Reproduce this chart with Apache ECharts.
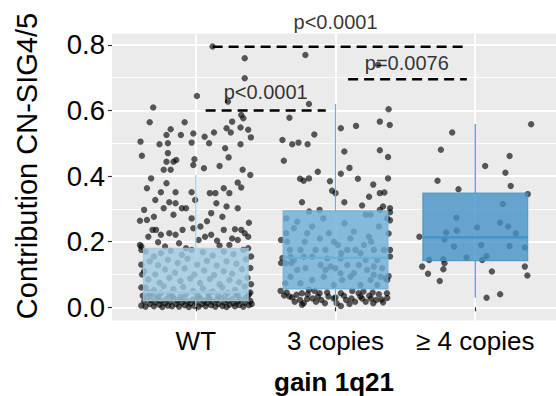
<!DOCTYPE html>
<html>
<head>
<meta charset="utf-8">
<script src="https://cdn.jsdelivr.net/npm/echarts@6/dist/echarts.min.js"></script>
<style>
html,body{margin:0;padding:0;background:#fff;}
#chart{width:556px;height:396px;}
</style>
</head>
<body>
<div id="chart"></div>
<script>
// ---------- data ----------
const categories = ['WT', '3 copies', '≥ 4 copies'];
const yTicks = [0, 0.2, 0.4, 0.6, 0.8];
const yMinorTicks = [0.1, 0.3, 0.5, 0.7];
const xTicks = [1, 2, 3];
// [position, lower whisker, Q1, median, Q3, upper whisker]
const boxStats = [
  [1, 0.001, 0.020, 0.046, 0.180, 0.403],
  [2, 0.004, 0.056, 0.151, 0.294, 0.620],
  [3, 0.029, 0.142, 0.213, 0.348, 0.559]
];
// significance brackets: [xStart, xEnd, y]
const brackets = [
  [1.07, 1.93, 0.600],
  [2.09, 2.94, 0.695],
  [1.12, 2.925, 0.794]
];
// p-value labels: [x, y, text]
const pLabels = [
  [1.50, 0.655, 'p<0.0001'],
  [2.51, 0.746, 'p=0.0076'],
  [2.00, 0.871, 'p<0.0001']
];
// jittered observations: [offset from group centre, value]
const wtPoints = [
  [0.12,0.795],[0.35,0.759],[0.35,0.698],[0.008,0.644],[0.23,0.627],[-0.305,0.609],[-0.33,0.564],[-0.08,0.564],
  [-0.396,0.505],[-0.386,0.462],[-0.18,0.543],[-0.21,0.525],[-0.107,0.525],[-0.018,0.530],[0.063,0.520],[0.13,0.533],
  [0.22,0.546],[0.26,0.566],[0.325,0.586],[0.34,0.576],[0.375,0.541],[0.394,0.518],[0.32,0.548],[0.25,0.533],
  [-0.26,0.497],[-0.20,0.500],[-0.03,0.502],[0.095,0.500],[0.21,0.485],[0.32,0.497],[-0.20,0.470],[-0.16,0.444],
  [-0.21,0.444],[-0.14,0.449],[-0.01,0.451],[0.235,0.457],[-0.018,0.434],[0.058,0.424],[-0.23,0.419],[-0.18,0.419],
  [0.17,0.431],[0.335,0.419],[0.39,0.403],[-0.32,0.393],[-0.35,0.363],[-0.25,0.351],[-0.21,0.378],[-0.145,0.351],
  [-0.03,0.351],[-0.005,0.327],[0.10,0.348],[0.14,0.348],[0.20,0.363],[0.24,0.348],[0.30,0.380],[0.325,0.365],
  [-0.29,0.327],[-0.23,0.302],[-0.19,0.320],[-0.145,0.317],[-0.10,0.302],[-0.07,0.302],[0.147,0.317],[0.22,0.307],
  [0.30,0.302],[0.11,0.287],[0.19,0.276],[-0.37,0.297],[-0.35,0.266],[-0.40,0.264],[-0.30,0.276],[-0.31,0.236],
  [-0.285,0.236],[-0.19,0.226],[-0.25,0.221],[-0.145,0.221],[-0.095,0.236],[-0.03,0.271],[-0.018,0.241],[0.033,0.246],
  [0.066,0.215],[0.11,0.221],[0.152,0.203],[0.20,0.236],[0.26,0.210],[0.28,0.238],[0.325,0.236],[0.35,0.226],
  [0.38,0.258],[0.375,0.215],[0.24,0.190],[0.30,0.205],[0.375,0.180],[-0.22,0.185],[-0.07,0.180],[-0.40,0.190],
  [-0.39,0.175],[-0.34,0.215],[-0.12,0.195],[0.02,0.205],[0.17,0.188],[-0.27,0.198],[0.08,0.262],[-0.16,0.282],
  [-0.36,0.170],[-0.30,0.155],[-0.25,0.165],[-0.18,0.172],[-0.10,0.160],[-0.03,0.175],[0.05,0.168],[0.12,0.158],
  [0.20,0.170],[0.27,0.162],[0.34,0.175],[-0.33,0.140],[-0.27,0.128],[-0.20,0.145],[-0.13,0.135],[-0.06,0.148],
  [0.01,0.130],[0.08,0.142],[0.15,0.127],[0.22,0.140],[0.29,0.133],[0.36,0.146],[-0.37,0.110],[-0.29,0.100],
  [-0.22,0.115],[-0.15,0.105],[-0.08,0.118],[-0.01,0.100],[0.06,0.112],[0.13,0.098],[0.20,0.110],[0.26,0.102],
  [0.33,0.116],[-0.34,0.085],[-0.26,0.075],[-0.19,0.090],[-0.11,0.080],[-0.04,0.088],[0.03,0.074],[0.10,0.086],
  [0.17,0.070],[0.24,0.083],[0.31,0.076],[0.37,0.090],[-0.36,0.060],[-0.30,0.052],[-0.23,0.064],[-0.16,0.055],
  [-0.09,0.062],[-0.02,0.050],[0.05,0.058],[0.12,0.048],[0.19,0.060],[0.28,0.053],[0.35,0.063],[-0.33,0.038],
  [-0.25,0.043],[-0.17,0.035],[-0.07,0.040],[0.02,0.033],[0.09,0.042],[0.16,0.036],[0.23,0.044],[0.30,0.037],
  [0.38,0.040],
  [-0.39,0.005],[-0.37,0.018],[-0.36,0.002],[-0.35,0.028],[-0.33,0.010],[-0.32,0.022],[-0.30,0.003],[-0.29,0.015],
  [-0.28,0.027],[-0.26,0.008],[-0.25,0.020],[-0.24,0.001],[-0.22,0.012],[-0.21,0.025],[-0.20,0.005],[-0.18,0.017],
  [-0.17,0.003],[-0.16,0.028],[-0.14,0.010],[-0.13,0.021],[-0.12,0.002],[-0.10,0.014],[-0.09,0.026],[-0.08,0.006],
  [-0.06,0.018],[-0.05,0.001],[-0.04,0.011],[-0.02,0.024],[-0.01,0.004],[0.00,0.016],[0.02,0.002],[0.03,0.027],
  [0.04,0.009],[0.06,0.020],[0.07,0.003],[0.08,0.013],[0.10,0.025],[0.11,0.006],[0.12,0.017],[0.14,0.002],
  [0.15,0.022],[0.16,0.010],[0.18,0.028],[0.19,0.004],[0.20,0.015],[0.22,0.001],[0.23,0.020],[0.24,0.008],
  [0.26,0.026],[0.27,0.012],[0.28,0.003],[0.30,0.018],[0.31,0.007],[0.32,0.024],[0.34,0.002],[0.35,0.014],
  [0.36,0.028],[0.38,0.006],[0.39,0.019],[0.40,0.010],
  [-0.38,0.035],[-0.34,0.045],[-0.31,0.040],[-0.27,0.033],[-0.19,0.038],[-0.11,0.032],[0.01,0.036],[0.09,0.031],
  [0.21,0.034],[0.29,0.039],[0.37,0.033],[0.39,0.045],[-0.39,0.060],[-0.385,0.100],[-0.39,0.130],[0.395,0.070],
  [0.39,0.120],[0.395,0.155],[-0.39,0.185]
];
const cn3Points = [
  [-0.216,0.769],[0.305,0.739],[-0.19,0.620],[-0.33,0.578],[0.38,0.604],[0.317,0.566],[0.388,0.556],[0.147,0.553],
  [0.038,0.546],[-0.152,0.527],[-0.38,0.510],[-0.31,0.497],[-0.265,0.502],[-0.20,0.497],[0.317,0.479],[0.063,0.475],
  [0.376,0.458],[-0.37,0.447],[0.10,0.425],[-0.127,0.413],[0.038,0.407],[-0.254,0.392],[-0.228,0.386],[-0.19,0.393],
  [0.16,0.392],[0.376,0.393],[-0.025,0.355],[0.0,0.348],[0.317,0.348],[0.35,0.350],[-0.24,0.320],[0.063,0.320],
  [0.19,0.310],[0.24,0.337],[0.34,0.307],[0.39,0.302],[-0.114,0.297],[0.317,0.297],[-0.04,0.384],[0.27,0.374],
  [-0.353,0.271],[-0.298,0.241],[-0.346,0.200],[-0.327,0.175],[-0.298,0.144],[-0.251,0.175],[-0.22,0.200],[-0.167,0.246],
  [-0.112,0.210],[-0.088,0.271],[-0.072,0.175],[-0.012,0.200],[0.017,0.190],[0.041,0.165],[0.064,0.256],[0.084,0.175],
  [0.107,0.210],[0.143,0.175],[0.179,0.165],[0.203,0.190],[0.239,0.215],[0.255,0.200],[0.274,0.175],[0.298,0.144],
  [0.31,0.246],[0.346,0.175],[0.37,0.271],[-0.358,0.134],[-0.317,0.134],[-0.274,0.114],[-0.215,0.119],[-0.167,0.154],
  [-0.107,0.129],[-0.072,0.114],[-0.036,0.124],[0.0,0.119],[0.036,0.104],[0.084,0.129],[0.131,0.104],[0.167,0.129],
  [0.227,0.114],[0.274,0.099],[0.322,0.093],[0.358,0.088],[-0.322,0.093],[-0.251,0.073],[-0.167,0.083],[-0.084,0.093],
  [-0.012,0.068],[0.048,0.083],[0.107,0.093],[0.179,0.068],[0.251,0.083],[0.298,0.068],[-0.353,0.226],[-0.203,0.226],
  [-0.048,0.226],[0.131,0.231],[0.215,0.282],[0.251,0.282],[0.37,0.083],[-0.358,0.073],[-0.143,0.175],[0.036,0.149],
  [0.215,0.144],[-0.322,0.154],[-0.227,0.154],[-0.06,0.149],[0.274,0.124],[0.334,0.119],[-0.274,0.261],[-0.189,0.292],
  [0.39,0.290],[0.39,0.265],[0.38,0.225],[0.39,0.175],[0.39,0.155],[0.38,0.095],[-0.39,0.205],[-0.38,0.150],
  [-0.39,0.135],
  [-0.393,0.050],[-0.368,0.036],[-0.33,0.033],[-0.292,0.017],[-0.254,0.022],[-0.228,0.012],[-0.203,0.025],[-0.165,0.027],
  [-0.14,0.017],[-0.102,0.022],[-0.076,0.012],[-0.051,0.033],[-0.013,0.027],[0.008,0.012],[0.038,0.004],[0.076,0.022],
  [0.114,0.027],[0.14,0.017],[0.178,0.033],[0.216,0.017],[0.254,0.027],[0.292,0.022],[0.33,0.024],[0.368,0.043],
  [-0.241,0.043],[-0.19,0.053],[-0.114,0.043],[0.038,0.043],[0.165,0.043],[0.266,0.045],[-0.279,0.038],[-0.127,0.033],
  [0.19,0.027],[0.241,0.035],[-0.35,0.045],[-0.31,0.030],[-0.20,0.040],[-0.06,0.045],[0.06,0.035],[0.12,0.050],
  [0.20,0.048],[0.31,0.040],[0.37,0.028],[-0.15,0.050],[0.0,0.030],[0.27,0.012],[-0.24,0.008],[0.10,0.010],
  [0.34,0.015]
];
const cn4Points = [
  [0.40,0.558],[-0.165,0.533],[-0.246,0.480],[0.246,0.461],[0.071,0.431],[0.216,0.410],[-0.27,0.386],[0.254,0.370],
  [-0.12,0.360],[0.376,0.345],[0.198,0.315],[-0.135,0.273],[0.178,0.258],[0.236,0.246],[0.013,0.243],[-0.132,0.234],
  [-0.208,0.228],[-0.40,0.215],[-0.22,0.207],[0.29,0.225],[0.043,0.190],[-0.152,0.185],[0.246,0.187],[0.355,0.182],
  [-0.228,0.146],[-0.063,0.152],[0.081,0.156],[-0.33,0.144],[0.05,0.144],[-0.22,0.134],[-0.38,0.124],[0.355,0.124],
  [-0.228,0.116],[0.119,0.109],[-0.338,0.102],[0.373,0.097],[-0.254,0.080],[0.178,0.040],[0.081,0.029]
];

// ---------- chart ----------
const boxColors = ['#9ECAE1', '#6BAED6', '#4292C6'];
const FONT = 'Liberation Sans, Arial, Helvetica, sans-serif';

const chart = echarts.init(document.getElementById('chart'), null, {renderer: 'svg'});

function toGroup(points, g) { return points.map(p => [g + p[0], p[1]]); }
const pointSeries = [wtPoints, cn3Points, cn4Points].map((pts, i) => ({
  type: 'scatter',
  data: toGroup(pts, i + 1),
  symbolSize: 6.4,
  itemStyle: {color: 'rgba(0,0,0,0.8)'},
  clip: false,
  silent: true,
  z: 2
}));

const option = {
  animation: false,
  grid: {
    left: 112, right: 0, top: 33.4, bottom: 75.6,
    show: true, backgroundColor: '#EBEBEB', borderWidth: 0,
    outerBoundsMode: 'none'
  },
  xAxis: {
    type: 'value', min: 0.4, max: 3.578,
    axisLine: {show: false},
    axisTick: {show: true, length: 4, customValues: xTicks, lineStyle: {color: '#333', width: 1.2}},
    axisLabel: {
      customValues: xTicks, margin: 8, fontSize: 26, color: '#000', fontFamily: FONT,
      formatter: v => categories[Math.round(v) - 1]
    },
    splitLine: {show: true, lineStyle: {color: '#fff', width: 1.8}},
    name: 'gain 1q21', nameLocation: 'middle', nameGap: 49,
    nameTextStyle: {fontSize: 26, fontWeight: 'bold', color: '#000', fontFamily: FONT}
  },
  yAxis: [
    {
      type: 'value', min: -0.04, max: 0.835, position: 'left',
      axisLine: {show: false},
      axisTick: {show: true, length: 4, customValues: yTicks, lineStyle: {color: '#333', width: 1.2}},
      axisLabel: {customValues: yTicks, margin: 7, fontSize: 27.5, color: '#000', fontFamily: FONT,
        formatter: v => v.toFixed(1)},
      splitLine: {show: true, lineStyle: {color: '#fff', width: 1.8}}
    },
    {
      type: 'value', min: -0.04, max: 0.835, position: 'left',
      axisLine: {show: false},
      axisTick: {show: false, customValues: yMinorTicks},
      axisLabel: {show: false, customValues: yMinorTicks},
      splitLine: {show: true, lineStyle: {color: '#fff', width: 0.9}}
    }
  ],
  graphic: [{
    type: 'text', x: 27, y: 166, rotation: Math.PI / 2,
    style: {text: 'Contribution CN-SIG4/5', fontSize: 29, fontFamily: FONT, fill: '#000',
      textAlign: 'center', textVerticalAlign: 'middle'}
  }],
  series: pointSeries.concat([
    {
      type: 'custom',
      data: boxStats.map((b, i) => b.concat([i])),
      z: 3, silent: true, clip: false,
      renderItem: function (params, api) {
        const x = api.value(0);
        const lo = api.coord([x, api.value(1)]);
        const q1 = api.coord([x, api.value(2)]);
        const md = api.coord([x, api.value(3)]);
        const q3 = api.coord([x, api.value(4)]);
        const hi = api.coord([x, api.value(5)]);
        const w = api.size([0.75, 0])[0];
        const c = boxColors[api.value(6)];
        const cx = q1[0];
        return {
          type: 'group',
          children: [
            {type: 'line', shape: {x1: cx, y1: hi[1], x2: cx, y2: q3[1]}, style: {stroke: c, lineWidth: 1.2}},
            {type: 'line', shape: {x1: cx, y1: q1[1], x2: cx, y2: lo[1]}, style: {stroke: c, lineWidth: 1.2}},
            {type: 'rect', shape: {x: cx - w / 2, y: q3[1], width: w, height: q1[1] - q3[1]},
              style: {fill: c, opacity: 0.8, stroke: c, lineWidth: 1.2}},
            {type: 'line', shape: {x1: cx - w / 2, y1: md[1], x2: cx + w / 2, y2: md[1]},
              style: {stroke: c, lineWidth: 2.2}}
          ]
        };
      }
    }
  ]).concat(brackets.map(b => ({
    type: 'line',
    data: [[b[0], b[2]], [b[1], b[2]]],
    symbol: 'none', silent: true, z: 4, clip: false,
    lineStyle: {color: '#000', width: 2.5, type: [10, 6]}
  }))).concat([{
    type: 'scatter',
    data: pLabels,
    symbolSize: 1,
    itemStyle: {color: 'rgba(0,0,0,0)'},
    clip: false, silent: true, z: 5,
    label: {show: true, position: 'inside', formatter: p => p.value[2],
      fontSize: 20, color: '#000', fontFamily: FONT}
  }])
};
chart.setOption(option);
</script>
</body>
</html>
